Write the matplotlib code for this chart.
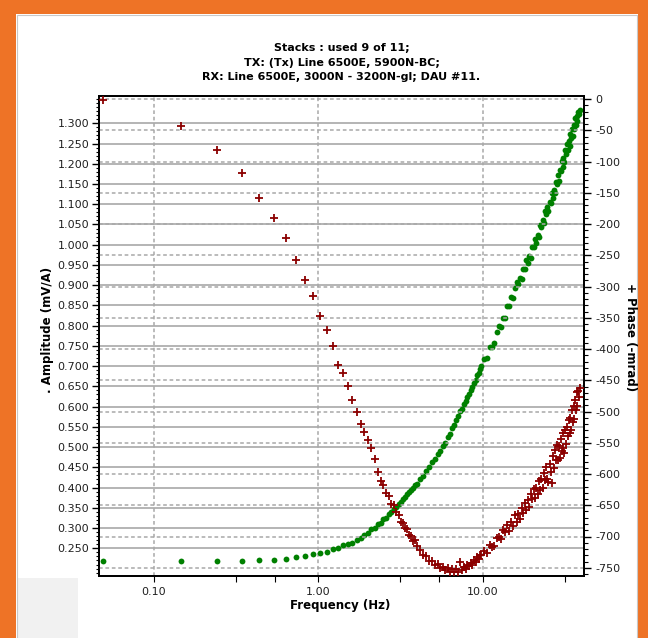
import matplotlib.pyplot as plt
from matplotlib.patches import Rectangle
from matplotlib.ticker import FixedLocator, MultipleLocator, FormatStrFormatter

plt.rcParams['axes.unicode_minus'] = False

# frequencies (Hz), odd harmonics of the base frequency
freq = [0.049, 0.146, 0.244, 0.342, 0.439, 0.537, 0.635, 0.732, 0.830, 0.928,
        1.025, 1.123, 1.221, 1.318, 1.416, 1.514, 1.611, 1.709, 1.807, 1.904,
        2.002, 2.100, 2.197, 2.295, 2.393, 2.490, 2.588, 2.686, 2.783, 2.881,
        2.979, 3.076, 3.174, 3.271, 3.369, 3.467, 3.564, 3.662, 3.760, 3.857, 3.955,
        4.150, 4.346, 4.541, 4.736, 4.932, 5.127, 5.322, 5.518, 5.713, 5.908,
        6.104, 6.299, 6.494, 6.689, 6.885, 7.080, 7.275, 7.471, 7.666, 7.861,
        8.057, 8.252, 8.447, 8.643, 8.838, 9.033, 9.229, 9.424, 9.619, 9.814,
        10.205, 10.596, 10.986, 11.377, 11.768, 12.158, 12.549, 12.939, 13.330, 13.721,
        14.111, 14.502, 14.893, 15.283, 15.674, 16.064, 16.455, 16.846, 17.236, 17.627,
        18.018, 18.408, 18.799, 19.189, 19.580, 19.971, 20.361, 20.752, 21.143, 21.533,
        21.924, 22.314, 22.705, 23.096, 23.486, 23.877, 24.268, 24.658, 25.049, 25.439,
        25.830, 26.221, 26.611, 27.002, 27.393, 27.783, 28.174, 28.564, 28.955, 29.346,
        29.736, 30.127, 30.518, 30.908, 31.299, 31.689, 32.080, 32.471, 32.861, 33.252,
        33.643, 34.033, 34.424, 34.814, 35.205, 35.596, 35.986, 36.377, 36.768, 37.158,
        37.549, 37.939, 38.330, 38.721]

# amplitude (mV/A)
amplitude = [0.219, 0.219, 0.219, 0.218, 0.221, 0.222, 0.224, 0.228, 0.231, 0.237,
             0.239, 0.242, 0.248, 0.252, 0.258, 0.261, 0.264, 0.270, 0.275, 0.284,
             0.289, 0.297, 0.301, 0.309, 0.313, 0.322, 0.326, 0.335, 0.339, 0.348,
             0.352, 0.360, 0.364, 0.372, 0.376, 0.384, 0.388, 0.395, 0.399, 0.406, 0.409,
             0.421, 0.429, 0.442, 0.450, 0.462, 0.470, 0.482, 0.490, 0.503, 0.511,
             0.524, 0.533, 0.546, 0.554, 0.567, 0.576, 0.588, 0.595, 0.606, 0.613,
             0.624, 0.630, 0.641, 0.648, 0.659, 0.666, 0.677, 0.683, 0.694, 0.701,
             0.718, 0.720, 0.747, 0.748, 0.757, 0.784, 0.799, 0.797, 0.819, 0.818,
             0.849, 0.849, 0.870, 0.868, 0.892, 0.908, 0.902, 0.918, 0.916, 0.941,
             0.939, 0.963, 0.954, 0.973, 0.968, 0.995, 0.994, 1.013, 1.005, 1.025,
             1.019, 1.049, 1.043, 1.062, 1.054, 1.083, 1.075, 1.093, 1.083, 1.106,
             1.103, 1.129, 1.116, 1.135, 1.128, 1.156, 1.151, 1.173, 1.158, 1.184,
             1.181, 1.207, 1.192, 1.213, 1.205, 1.233, 1.224, 1.249, 1.233, 1.255,
             1.244, 1.274, 1.263, 1.285, 1.268, 1.295, 1.285, 1.313, 1.295, 1.318,
             1.305, 1.328, 1.324, 1.333]

# phase (mrad)
phase = [-2, -43, -81, -118, -158, -191, -222, -258, -290, -315,
         -347, -370, -395, -425, -439, -459, -481, -500, -520, -533,
         -546, -559, -576, -597, -611, -617, -631, -635, -648, -650,
         -661, -665, -676, -678, -686, -688, -698, -699, -707, -706, -715,
         -721, -729, -731, -739, -739, -746, -744, -750, -748, -754,
         -751, -756, -752, -757, -752, -756, -741, -754, -749, -752,
         -745, -747, -742, -745, -738, -740, -733, -736, -729, -730,
         -723, -726, -713, -716, -715, -702, -700, -704, -689, -693,
         -681, -691, -677, -683, -666, -677, -664, -672, -654, -662,
         -646, -657, -642, -653, -632, -640, -624, -639, -623, -632,
         -611, -626, -608, -623, -599, -609, -589, -608, -612, -584,
         -597, -614, -571, -591, -562, -577, -554, -578, -555, -575,
         -544, -563, -535, -558, -566, -529, -552, -524, -539, -513,
         -535, -510, -530, -497, -516, -491, -512, -481, -497, -469,
         -491, -467, -476, -463]

title_lines = ["Stacks : used 9 of 11;",
               "TX: (Tx) Line 6500E, 5900N-BC;",
               "RX: Line 6500E, 3000N - 3200N-gl; DAU #11."]
amp_ticks = [0.25, 0.30, 0.35, 0.40, 0.45, 0.50, 0.55, 0.60, 0.65, 0.70, 0.75,
             0.80, 0.85, 0.90, 0.95, 1.00, 1.05, 1.10, 1.15, 1.20, 1.25, 1.30]
phase_ticks = [0, -50, -100, -150, -200, -250, -300, -350, -400, -450, -500,
               -550, -600, -650, -700, -750]
freq_ticks = [0.1, 1, 10]
freq_labels = ["0.10", "1.00", "10.00"]
freq_minor = [0.316, 0.543, 3.16, 5.43, 31.6]

W, H = 648, 638
fig = plt.figure(figsize=(W / 100, H / 100), dpi=100)
fig.patch.set_facecolor('white')


def rect(x0, y0, x1, y1, **kw):
    fig.patches.append(Rectangle((x0 / W, 1 - y1 / H), (x1 - x0) / W, (y1 - y0) / H,
                                 transform=fig.transFigure, **kw))


# orange window frame
orange = '#ee7326'
rect(0, 0, W, 14, facecolor=orange, edgecolor='none')
rect(0, 0, 16, H, facecolor=orange, edgecolor='none')
rect(638, 0, W, H, facecolor=orange, edgecolor='none')
rect(18, 578, 78, H, facecolor='#f1f1f1', edgecolor='none')
rect(17, 15, 637, H + 2, facecolor='none', edgecolor='#c8c8c8', lw=0.8)

ax = fig.add_axes([99 / W, 1 - 576 / H, (584 - 99) / W, (576 - 96) / H])
ax.set_xscale('log')
ax.set_xlim(0.0465, 41.2)
ax.set_ylim(0.1816, 1.3674)

grid_col = '#a8a8a8'
dash = (0, (2.4, 1.8))

ax.plot(freq, amplitude, ls='none', marker='o', ms=4.2, color='#008000', mec='none', zorder=3)

ax.yaxis.set_major_locator(FixedLocator(amp_ticks))
ax.yaxis.set_minor_locator(MultipleLocator(0.01))
ax.yaxis.set_major_formatter(FormatStrFormatter('%.3f'))
ax.xaxis.set_major_locator(FixedLocator(freq_ticks))
ax.xaxis.set_minor_locator(FixedLocator(freq_minor))
ax.set_xticklabels(freq_labels)
ax.xaxis.set_minor_formatter(plt.NullFormatter())
ax.grid(True, axis='y', which='major', color=grid_col, lw=1.2, ls='-', zorder=0)
ax.grid(True, axis='x', which='major', color=grid_col, lw=1.1, ls=dash, zorder=0)
ax.set_axisbelow(True)

ax.tick_params(axis='y', which='major', length=5, width=1, direction='out', pad=2,
               labelsize=8, labelcolor='#202020')
ax.tick_params(axis='y', which='minor', length=2.5, width=0.8, direction='out')
ax.tick_params(axis='x', which='both', length=4, width=0.8, direction='out', pad=4,
               labelsize=8, labelcolor='#202020')

ax2 = ax.twinx()
ax2.set_ylim(-763.2, 4.8)
ax2.plot(freq, phase, ls='none', marker='+', ms=5.8, mew=1.3, color='#8b0000', zorder=3)
ax2.yaxis.set_major_locator(FixedLocator(phase_ticks))
ax2.yaxis.set_minor_locator(MultipleLocator(10))
ax2.grid(True, axis='y', which='major', color=grid_col, lw=1.1, ls=dash, zorder=0)
ax2.set_axisbelow(True)
ax2.tick_params(axis='y', which='major', length=5, width=1, direction='out', pad=3,
                labelsize=8, labelcolor='#202020')
ax2.tick_params(axis='y', which='minor', length=3, width=0.8, direction='out')

for a in (ax, ax2):
    for s in a.spines.values():
        s.set_color('black')
        s.set_linewidth(1.3)

# labels
fig.text(47 / W, 1 - 330 / H, ". Amplitude (mV/A)", rotation=90, ha='center', va='center',
         fontsize=8.5, fontweight='bold')
fig.text(630 / W, 1 - 337 / H, "+ Phase (-mrad)", rotation=270, ha='center', va='center',
         fontsize=8.5, fontweight='bold')
fig.text(340 / W, 1 - 605 / H, "Frequency (Hz)", ha='center', va='center',
         fontsize=8.5, fontweight='bold')
for i, line in enumerate(title_lines):
    fig.text(341.5 / W, 1 - (48 + 14.5 * i) / H, line, ha='center', va='center',
             fontsize=8, fontweight='bold')

fig.savefig('out.png', dpi=100)
